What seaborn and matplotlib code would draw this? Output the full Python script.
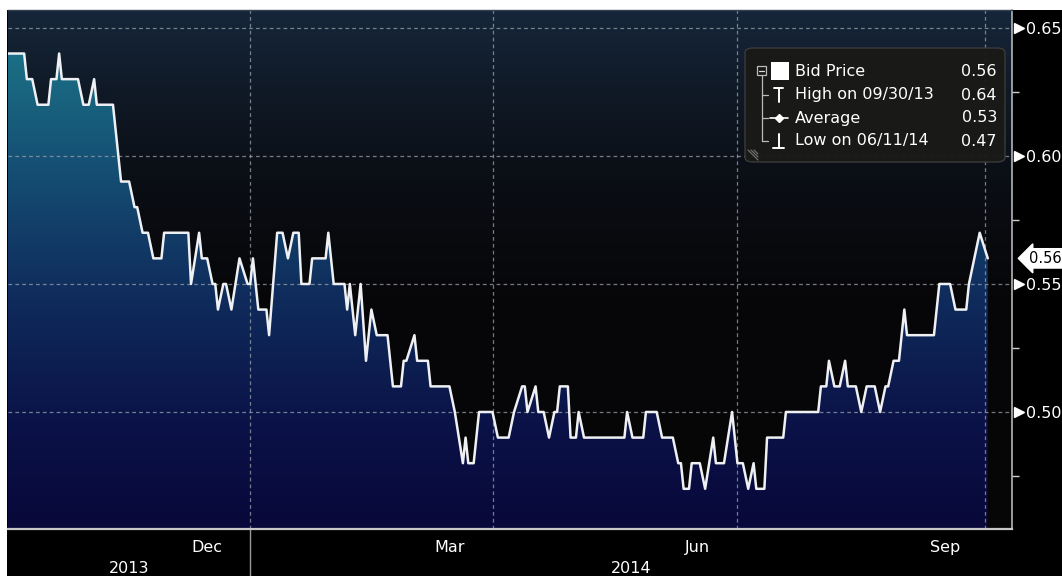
import matplotlib
matplotlib.use("Agg")
import matplotlib.pyplot as plt
import matplotlib.dates as mdates
import matplotlib.transforms as mtransforms
from matplotlib.colors import LinearSegmentedColormap
from matplotlib.patches import Rectangle, FancyBboxPatch
from matplotlib.lines import Line2D
import numpy as np
import pandas as pd
import seaborn as sns

# bid price, days counted from the first date
start_date = "2013-09-30"
day_offsets = [0, 9, 10, 12, 14, 18, 19, 21, 22, 23, 29, 31, 33, 35, 36, 42, 43, 44, 45, 48,
               50, 51, 53, 55, 57, 60, 61, 70, 71, 74, 75, 77, 79, 80, 81, 83, 84, 86, 89, 92,
               93, 94, 96, 99, 100, 103, 105, 107, 109, 111, 112, 115, 116, 121, 122, 124, 128, 129, 130, 132,
               134, 136, 138, 140, 144, 146, 149, 150, 151, 154, 155, 159, 160, 167, 169, 172, 173, 174, 176, 178,
               183, 185, 189, 191, 194, 195, 196, 199, 200, 202, 204, 206, 207, 208, 211, 212, 214, 215, 217, 232,
               233, 235, 239, 240, 244, 246, 250, 252, 253, 254, 256, 257, 260, 262, 265, 266, 269, 272, 274, 276,
               278, 280, 281, 284, 285, 291, 292, 304, 305, 307, 308, 310, 312, 314, 315, 318, 320, 322, 325, 327,
               329, 330, 332, 334, 336, 337, 347, 349, 353, 355, 359, 360, 362, 364, 367]
bid_prices = [0.64, 0.64, 0.63, 0.63, 0.62, 0.62, 0.63, 0.63, 0.64, 0.63, 0.63, 0.62, 0.62, 0.63, 0.62, 0.62, 0.61, 0.60, 0.59, 0.59,
              0.58, 0.58, 0.57, 0.57, 0.56, 0.56, 0.57, 0.57, 0.55, 0.57, 0.56, 0.56, 0.55, 0.55, 0.54, 0.55, 0.55, 0.54, 0.56, 0.55,
              0.55, 0.56, 0.54, 0.54, 0.53, 0.57, 0.57, 0.56, 0.57, 0.57, 0.55, 0.55, 0.56, 0.56, 0.57, 0.55, 0.55, 0.54, 0.55, 0.53,
              0.55, 0.52, 0.54, 0.53, 0.53, 0.51, 0.51, 0.52, 0.52, 0.53, 0.52, 0.52, 0.51, 0.51, 0.50, 0.48, 0.49, 0.48, 0.48, 0.50,
              0.50, 0.49, 0.49, 0.50, 0.51, 0.51, 0.50, 0.51, 0.50, 0.50, 0.49, 0.50, 0.50, 0.51, 0.51, 0.49, 0.49, 0.50, 0.49, 0.49,
              0.50, 0.49, 0.49, 0.50, 0.50, 0.49, 0.49, 0.48, 0.48, 0.47, 0.47, 0.48, 0.48, 0.47, 0.49, 0.48, 0.48, 0.50, 0.48, 0.48,
              0.47, 0.48, 0.47, 0.47, 0.49, 0.49, 0.50, 0.50, 0.51, 0.51, 0.52, 0.51, 0.51, 0.52, 0.51, 0.51, 0.50, 0.51, 0.51, 0.50,
              0.51, 0.51, 0.52, 0.52, 0.54, 0.53, 0.53, 0.55, 0.55, 0.54, 0.54, 0.55, 0.56, 0.57, 0.56]

month_labels = ["Dec", "Mar", "Jun", "Sep"]
month_label_dates = ["2013-12-16", "2014-03-16", "2014-06-16", "2014-09-16"]
quarter_dates = ["2014-01-01", "2014-04-01", "2014-07-01", "2014-10-01"]
year_labels = ["2013", "2014"]
price_ticks = [0.50, 0.55, 0.60, 0.65]
minor_price_ticks = [0.475, 0.525, 0.575, 0.625]
legend_names = ["Bid Price", "High on 09/30/13", "Average", "Low on 06/11/14"]
legend_values = ["0.56", "0.64", "0.53", "0.47"]
last_price = 0.56

df = pd.DataFrame({
    "date": pd.to_datetime(start_date) + pd.to_timedelta(day_offsets, unit="D"),
    "price": bid_prices,
})

sns.set_theme(style="dark")
plt.rcParams["font.family"] = ["DejaVu Sans"]

W, H = 1062, 576
fig = plt.figure(figsize=(W / 100, H / 100), dpi=100)
fig.patch.set_facecolor("white")
# black chart area, thin white strip on top and left like the screenshot
fig.add_artist(Rectangle((7 / W, 0), 1, 1 - 10 / H, transform=fig.transFigure,
                         facecolor="black", edgecolor="none", zorder=-5))

def fx(x):
    return x / W

def fy(y):
    return 1 - y / H

ax = fig.add_axes([fx(8), fy(529), (1012 - 8) / W, (529 - 10) / H])
ax.set_facecolor("black")

x0, x1 = pd.Timestamp("2013-10-03"), pd.Timestamp("2014-10-11")
y0, y1 = 0.4543, 0.6570
ax.set_xlim(x0, x1)
ax.set_ylim(y0, y1)
ext = [mdates.date2num(x0), mdates.date2num(x1), y0, y1]

# background gradient
bg_cmap = LinearSegmentedColormap.from_list("bg", [
    (0.0, "#060607"), (0.45, "#070709"), (0.65, "#0a0d13"), (0.85, "#101a27"), (1.0, "#16263a")])
grad = np.linspace(0, 1, 256).reshape(-1, 1)
ax.imshow(grad, extent=ext, origin="lower", aspect="auto", cmap=bg_cmap, zorder=0)

# fill under the line with a teal -> navy gradient
fill_cmap = LinearSegmentedColormap.from_list("fill", [
    (0.0, "#08083a"), (0.2, "#0b1247"), (0.45, "#0f2c5c"), (0.7, "#154f74"), (0.88, "#1a6a82"), (1.0, "#1d7a8f")])
poly = ax.fill_between(df["date"], df["price"], y0, facecolor="none", edgecolor="none")
img = ax.imshow(grad, extent=ext, origin="lower", aspect="auto", cmap=fill_cmap, zorder=1)
img.set_clip_path(poly.get_paths()[0], transform=ax.transData)
ax.set_xlim(x0, x1)
ax.set_ylim(y0, y1)

sns.lineplot(data=df, x="date", y="price", ax=ax, color="#eef0f4", linewidth=1.8, zorder=4)
ax.set_xlabel("")
ax.set_ylabel("")

# dashed grid
grid_kw = dict(color="#9aa1aa", linewidth=0.9, linestyle=(0, (3, 2.5)), alpha=0.75, zorder=2)
for p in price_ticks:
    ax.axhline(p, **grid_kw)
for d in quarter_dates:
    ax.axvline(pd.Timestamp(d), **grid_kw)

# spines
ax.spines["left"].set_visible(False)
ax.spines["top"].set_color("#33414f")
ax.spines["top"].set_linewidth(1.0)
ax.spines["right"].set_color("#b5b5b5")
ax.spines["right"].set_linewidth(1.2)
ax.spines["bottom"].set_color("#c8c8c8")
ax.spines["bottom"].set_linewidth(1.6)

# x axis: month ticks, quarterly month names
ax.xaxis.set_major_locator(mdates.MonthLocator())
ax.xaxis.set_major_formatter(plt.NullFormatter())
ax.xaxis.set_minor_locator(plt.FixedLocator(mdates.date2num(pd.to_datetime(month_label_dates))))
ax.xaxis.set_minor_formatter(plt.FixedFormatter(month_labels))
ax.tick_params(axis="x", which="major", direction="out", length=4, width=1, color="#d0d0d0")
ax.tick_params(axis="x", which="minor", length=0, pad=8, labelsize=11.5, labelcolor="white")

# y axis on the right
ax.yaxis.tick_right()
ax.set_yticks(price_ticks)
ax.set_yticklabels([f"{p:.2f}" for p in price_ticks])
ax.set_yticks(minor_price_ticks, minor=True)
ax.tick_params(axis="y", which="major", length=0, pad=10, labelsize=11.5, labelcolor="white")
ax.tick_params(axis="y", which="minor", direction="out", length=5, width=1, color="#d0d0d0")

side = mtransforms.blended_transform_factory(ax.transAxes, ax.transData)
ax.plot([1.0065] * len(price_ticks), price_ticks, linestyle="none", marker=">", markersize=6.5,
        color="white", transform=side, clip_on=False, zorder=5)

# last price tag
ax.text(1.0165, last_price, f"{last_price:.2f}", transform=side, ha="left", va="center",
        fontsize=10.5, color="black", clip_on=False, zorder=6,
        bbox=dict(boxstyle="larrow,pad=0.15", facecolor="white", edgecolor="white"))

# year separator and year labels
bottom = mtransforms.blended_transform_factory(ax.transData, ax.transAxes)
jan1 = pd.Timestamp(quarter_dates[0])
ax.plot([jan1, jan1], [0, -0.1], color="#9a9a9a", linewidth=1, transform=bottom, clip_on=False)
year_centers = [x0 + (jan1 - x0) / 2, jan1 + (x1 - jan1) / 2]
for label, c in zip(year_labels, year_centers):
    ax.text(c, -0.077, label, transform=bottom, ha="center", va="center",
            fontsize=11.5, color="white", clip_on=False)

# legend box
fig.add_artist(FancyBboxPatch((fx(745), fy(162)), fx(1005) - fx(745), fy(48) - fy(162),
                              boxstyle="round,pad=0,rounding_size=0.008", transform=fig.transFigure,
                              facecolor="#1a1a17", edgecolor="#3c3c3c", linewidth=1, alpha=0.95, zorder=10))
row_y = [71, 95, 118, 141]
for name, val, yy in zip(legend_names, legend_values, row_y):
    fig.text(fx(795), fy(yy), name, ha="left", va="center", fontsize=11.5, color="white", zorder=12)
    fig.text(fx(997), fy(yy), val, ha="right", va="center", fontsize=11.5, color="white", zorder=12)

def fline(xs, ys, **kw):
    fig.add_artist(Line2D([fx(v) for v in xs], [fy(v) for v in ys], transform=fig.transFigure, zorder=12, **kw))

# tree structure and icons
fig.add_artist(Rectangle((fx(757), fy(75)), 9 / W, 9 / H, transform=fig.transFigure,
                         facecolor="none", edgecolor="#bbbbbb", linewidth=0.9, zorder=12))
fline([759, 764], [70.5, 70.5], color="#dddddd", linewidth=0.9)
fig.add_artist(Rectangle((fx(771), fy(80)), 18 / W, 18 / H, transform=fig.transFigure,
                         facecolor="white", edgecolor="none", zorder=12))
fline([761.5, 761.5], [75, 141], color="#bbbbbb", linewidth=0.9)
for yy in row_y[1:]:
    fline([761.5, 768], [yy, yy], color="#bbbbbb", linewidth=0.9)
fline([774, 783], [88, 88], color="white", linewidth=1.4)
fline([778.5, 778.5], [88, 102], color="white", linewidth=1.4)
fline([770, 788], [118, 118], color="white", linewidth=1.2)
fline([779], [118], color="white", marker="D", markersize=4, linestyle="none")
fline([778.5, 778.5], [134, 148], color="white", linewidth=1.4)
fline([773, 784], [148, 148], color="white", linewidth=1.4)
for k in range(3):
    fline([748 + 3 * k, 758], [150, 160 - 3 * k], color="#777777", linewidth=0.8)

fig.savefig("out.png", dpi=100, facecolor=fig.get_facecolor())
